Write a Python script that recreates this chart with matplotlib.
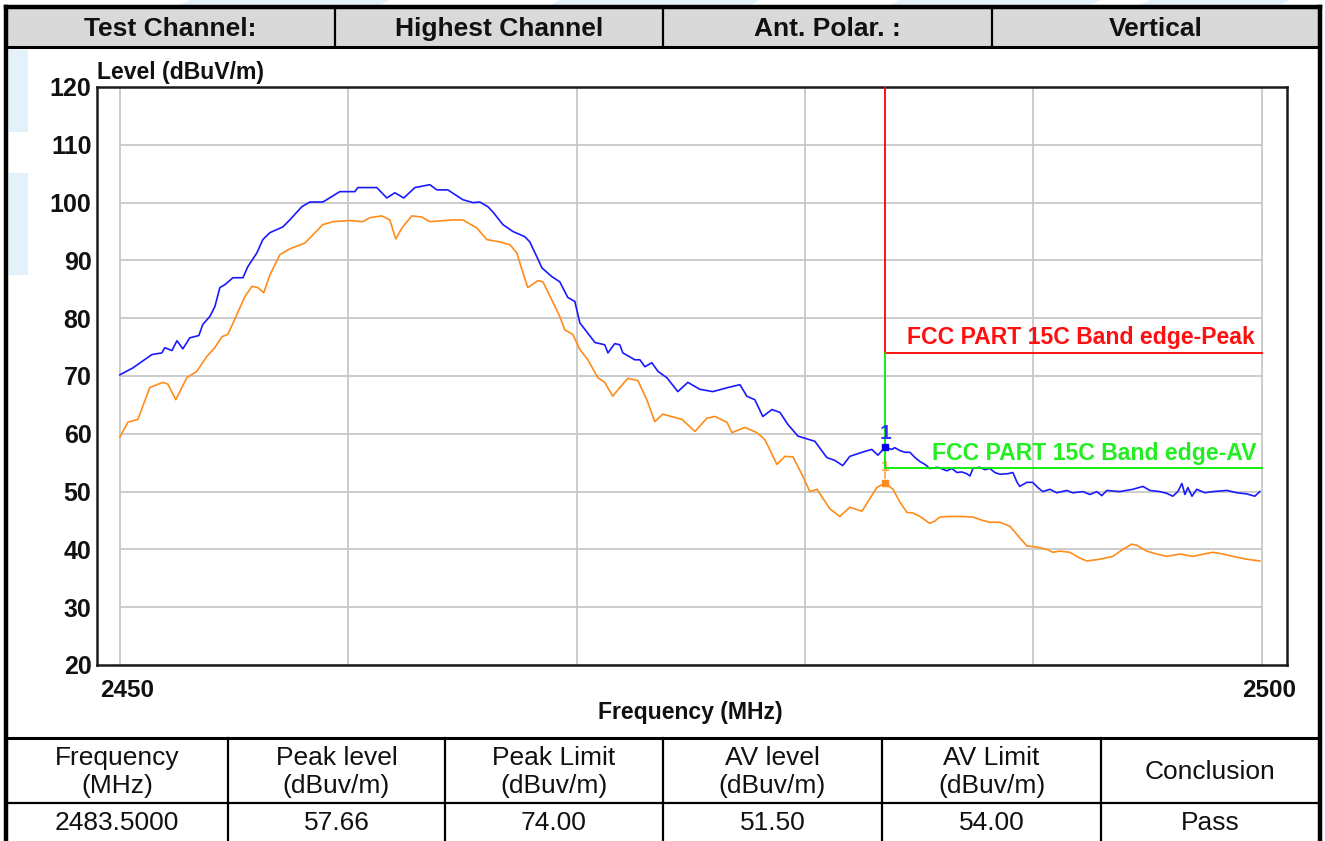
import matplotlib
matplotlib.use("Agg")
import matplotlib.pyplot as plt
from matplotlib.patches import Rectangle, Polygon
from matplotlib.transforms import ScaledTranslation

plt.rcParams['font.family'] = ['Liberation Sans', 'DejaVu Sans']

# Header row of the report
header_cells = ['Test Channel:', 'Highest Channel', 'Ant. Polar. :', 'Vertical']

# Peak trace (blue)
peak_freq = [2450.00, 2450.57, 2451.40, 2451.84, 2451.97, 2452.28, 2452.50, 2452.76, 2453.06,
             2453.46, 2453.63, 2453.94, 2454.16, 2454.38, 2454.60, 2454.95, 2455.39, 2455.60,
             2456.00, 2456.26, 2456.57, 2457.14, 2457.44, 2457.97, 2458.32, 2458.89, 2459.63,
             2460.29, 2460.42, 2461.25, 2461.69, 2462.04, 2462.43, 2462.92, 2463.57, 2463.88,
             2464.36, 2465.02, 2465.46, 2465.76, 2466.11, 2466.33, 2466.77, 2467.21, 2467.73,
             2467.95, 2468.26, 2468.48, 2468.91, 2469.26, 2469.61, 2469.92, 2470.14, 2470.80,
             2471.23, 2471.37, 2471.67, 2471.89, 2472.02, 2472.55, 2472.77, 2472.99, 2473.29,
             2473.56, 2473.95, 2474.43, 2474.87, 2475.39, 2475.96, 2476.62, 2477.15, 2477.45,
             2477.80, 2478.15, 2478.55, 2478.90, 2479.25, 2479.69, 2480.43, 2480.95, 2481.30,
             2481.65, 2481.96, 2482.49, 2482.92, 2483.19, 2483.50,
             2483.80, 2483.93, 2484.15, 2484.37, 2484.59, 2484.81, 2485.03, 2485.25, 2485.46,
             2485.81, 2486.21, 2486.43, 2486.65, 2486.86, 2487.08, 2487.22, 2487.35, 2487.65,
             2487.87, 2488.09, 2488.31, 2488.53, 2488.88, 2489.10, 2489.27, 2489.40, 2489.71,
             2489.97, 2490.19, 2490.41, 2490.72, 2491.02, 2491.46, 2491.72, 2492.16, 2492.47,
             2492.78, 2492.99, 2493.21, 2493.78, 2494.35, 2494.79, 2495.10, 2495.53, 2495.84,
             2496.10, 2496.32, 2496.50, 2496.63, 2496.76, 2496.94, 2497.15, 2497.50, 2497.85,
             2498.47, 2498.91, 2499.34, 2499.69, 2499.91]
peak_level = [70.2, 71.4, 73.7, 74.0, 74.9, 74.4, 76.1, 74.7, 76.6,
              77.0, 78.9, 80.3, 82.0, 85.3, 85.8, 87.0, 87.0, 88.9,
              91.3, 93.6, 94.8, 95.8, 97.0, 99.3, 100.1, 100.1, 101.9,
              101.9, 102.6, 102.6, 100.8, 101.7, 100.8, 102.6, 103.1, 102.2,
              102.2, 100.5, 100.0, 100.1, 99.3, 98.4, 96.2, 95.0, 94.1,
              93.2, 90.6, 88.7, 87.2, 86.3, 83.6, 82.9, 79.2, 75.8,
              75.4, 74.0, 75.6, 75.4, 74.0, 72.8, 72.8, 71.6, 72.3,
              70.8, 69.7, 67.3, 68.9, 67.7, 67.3, 68.0, 68.5, 66.5,
              65.9, 63.0, 64.2, 63.7, 61.6, 59.6, 58.7, 55.9, 55.4,
              54.5, 56.1, 56.8, 57.3, 56.3, 57.66,
              57.3, 57.6, 57.1, 56.8, 56.8, 55.9, 55.2, 54.7, 54.0,
              54.2, 53.6, 54.0, 53.3, 53.4, 53.1, 52.7, 54.0, 54.2,
              53.8, 54.0, 53.3, 53.0, 53.1, 53.3, 51.7, 50.9, 51.6,
              51.6, 50.7, 50.0, 50.4, 49.8, 50.2, 49.8, 50.0, 49.5,
              50.0, 49.3, 50.2, 50.0, 50.4, 50.9, 50.2, 50.0, 49.7,
              49.2, 50.0, 51.4, 49.5, 50.7, 49.2, 50.4, 49.8, 50.0,
              50.2, 49.8, 49.6, 49.2, 50.0]

# Average trace (orange)
av_freq = [2450.00, 2450.35, 2450.79, 2451.31, 2451.88, 2452.10, 2452.45, 2452.93, 2453.37,
           2453.81, 2454.16, 2454.47, 2454.73, 2455.12, 2455.47, 2455.78, 2456.04, 2456.30,
           2456.57, 2457.01, 2457.44, 2458.10, 2458.45, 2458.89, 2459.33, 2460.07, 2460.64,
           2460.95, 2461.47, 2461.82, 2462.08, 2462.35, 2462.78, 2463.22, 2463.57, 2464.58,
           2465.02, 2465.63, 2466.07, 2466.64, 2467.08, 2467.38, 2467.51, 2467.86, 2468.30,
           2468.52, 2468.91, 2469.26, 2469.48, 2469.83, 2470.14, 2470.49, 2470.93, 2471.23,
           2471.58, 2471.89, 2472.24, 2472.68, 2473.07, 2473.42, 2473.77, 2474.61, 2475.18,
           2475.70, 2476.05, 2476.58, 2476.80, 2477.36, 2477.89, 2478.24, 2478.77, 2479.12,
           2479.47, 2479.86, 2480.21, 2480.52, 2481.09, 2481.52, 2481.96, 2482.49, 2483.14,
           2483.50, 2483.85, 2484.15, 2484.46, 2484.72, 2485.03, 2485.46, 2485.68, 2485.90,
           2486.34, 2486.91, 2487.35, 2487.78, 2488.09, 2488.53, 2488.97, 2489.27, 2489.71,
           2490.15, 2490.59, 2490.85, 2491.16, 2491.59, 2492.03, 2492.34, 2492.91, 2493.48,
           2493.91, 2494.31, 2494.53, 2494.96, 2495.40, 2495.84, 2496.41, 2496.98, 2497.59,
           2497.85, 2498.29, 2498.73, 2499.34, 2499.91]
av_level = [59.4, 62.0, 62.5, 68.0, 68.9, 68.6, 65.9, 69.7, 70.8,
            73.4, 74.9, 76.8, 77.2, 80.6, 83.7, 85.5, 85.3, 84.4,
            87.5, 91.0, 92.0, 93.0, 94.4, 96.2, 96.7, 96.9, 96.7,
            97.4, 97.7, 97.0, 93.7, 95.6, 97.7, 97.5, 96.7, 97.0,
            97.0, 95.6, 93.6, 93.2, 92.7, 91.3, 89.6, 85.3, 86.5,
            86.3, 83.2, 80.3, 78.0, 77.2, 74.6, 72.8, 69.7, 68.9,
            66.5, 68.0, 69.6, 69.2, 65.9, 62.1, 63.4, 62.5, 60.4,
            62.7, 63.0, 62.0, 60.2, 61.1, 60.2, 59.0, 54.7, 56.1,
            56.0, 53.0, 50.0, 50.4, 47.0, 45.7, 47.3, 46.6, 50.7,
            51.5, 50.4, 48.2, 46.4, 46.3, 45.7, 44.5, 44.9, 45.6,
            45.7, 45.7, 45.6, 45.0, 44.7, 44.7, 44.0, 42.6, 40.6,
            40.4, 40.0, 39.5, 39.7, 39.5, 38.5, 38.0, 38.3, 38.8,
            40.0, 40.9, 40.7, 39.7, 39.2, 38.8, 39.2, 38.8, 39.3,
            39.5, 39.2, 38.8, 38.3, 38.0]

# Limits and marker
edge_freq = 2483.5
peak_limit = 74.0
av_limit = 54.0
marker_peak = 57.66
marker_av = 51.50

# Result table
table_head = [['Frequency', '(MHz)'], ['Peak level', '(dBuv/m)'], ['Peak Limit', '(dBuv/m)'],
              ['AV level', '(dBuv/m)'], ['AV Limit', '(dBuv/m)'], ['Conclusion', '']]
table_vals = ['2483.5000', '57.66', '74.00', '51.50', '54.00', 'Pass']

W, H = 1325, 841
fig = plt.figure(figsize=(W / 100, H / 100), dpi=100, facecolor='white')

# page layer in pixel coords for the report frame and tables
pg = fig.add_axes([0, 0, 1, 1])
pg.set_xlim(0, W)
pg.set_ylim(H, 0)
pg.axis('off')

light = '#e3f1fb'
for x0, x1 in [(190, 390), (560, 760), (900, 1100), (1150, 1290)]:
    pg.add_patch(Polygon([(x0, 0), (x1, 0), (x1 - 10, 5), (x0 - 10, 5)], color=light, lw=0))
pg.add_patch(Rectangle((9, 50), 19, 82, color=light, lw=0))
pg.add_patch(Rectangle((9, 173), 19, 102, color=light, lw=0))

# header row
pg.add_patch(Rectangle((6, 8), 1314, 39, facecolor='#d9d9d9', edgecolor='none'))
col_x = [6, 335, 663, 992, 1320]
for i, txt in enumerate(header_cells):
    pg.text((col_x[i] + col_x[i + 1]) / 2, 29, txt, ha='center', va='center',
            fontsize=19, fontweight='bold', color='#111111')
for x in col_x[1:-1]:
    pg.plot([x, x], [8, 47], color='black', lw=1.6)
pg.plot([6, 1320], [7, 7], color='black', lw=3.2)
pg.plot([6, 1320], [47, 47], color='black', lw=2.2)
pg.plot([6, 6], [7, H], color='black', lw=3.2)
pg.plot([1320, 1320], [7, H], color='black', lw=3.2)

# bottom result table
tcol = [6, 228, 445, 663, 882, 1101, 1320]
pg.plot([6, 1320], [738, 738], color='black', lw=2.2)
pg.plot([6, 1320], [803, 803], color='black', lw=1.6)
for x in tcol[1:-1]:
    pg.plot([x, x], [738, H], color='black', lw=1.6)
for i in range(6):
    cx = (tcol[i] + tcol[i + 1]) / 2
    l1, l2 = table_head[i]
    if l2:
        pg.text(cx, 758, l1, ha='center', va='center', fontsize=19, color='#111111')
        pg.text(cx, 786, l2, ha='center', va='center', fontsize=19, color='#111111')
    else:
        pg.text(cx, 772, l1, ha='center', va='center', fontsize=19, color='#111111')
    pg.text(cx, 823, table_vals[i], ha='center', va='center', fontsize=19, color='#111111')

# chart
ax = fig.add_axes([97 / W, 1 - 665 / H, (1287 - 97) / W, (665 - 87) / H])
ax.set_xlim(2449.0, 2501.1)
ax.set_ylim(20, 120)
for s in ax.spines.values():
    s.set_linewidth(1.8)
    s.set_color('#1a1a1a')

grid_c = '#c8c8c8'
for y in range(20, 121, 10):
    ax.plot([2450, 2500], [y, y], color=grid_c, lw=1.3, zorder=1)
for x in range(2450, 2501, 10):
    ax.plot([x, x], [20, 120], color=grid_c, lw=1.3, zorder=1)

ax.set_yticks(range(20, 121, 10))
ax.set_xticks([2450, 2500])
ax.set_xticklabels(['2450', '2500'])
ax.tick_params(axis='y', length=0, pad=4, labelsize=18)
ax.tick_params(axis='x', length=0, pad=10, labelsize=17.5)
shift = ScaledTranslation(7 / 100, 0, fig.dpi_scale_trans)
for lab in ax.get_xticklabels():
    lab.set_transform(lab.get_transform() + shift)
for lab in ax.get_xticklabels() + ax.get_yticklabels():
    lab.set_fontweight('bold')
    lab.set_color('#111111')

ax.plot(av_freq, av_level, color='#ff8c1a', lw=1.2, zorder=3)
ax.plot(peak_freq, peak_level, color='#1a1aff', lw=1.2, zorder=4)

# limit lines
ax.plot([edge_freq, edge_freq], [peak_limit, 120], color='#ff0000', lw=1.3, zorder=5)
ax.plot([edge_freq, 2500], [peak_limit, peak_limit], color='#ff0000', lw=1.3, zorder=5)
ax.plot([edge_freq, edge_freq], [av_limit, peak_limit], color='#00ee00', lw=1.3, zorder=5)
ax.plot([edge_freq, 2500], [av_limit, av_limit], color='#00ee00', lw=1.3, zorder=5)
ax.text(2499.7, peak_limit + 0.6, 'FCC PART 15C Band edge-Peak', ha='right', va='bottom',
        fontsize=16.6, fontweight='bold', color='#ff1010', zorder=6)
ax.text(2499.75, av_limit + 0.6, 'FCC PART 15C Band edge-AV', ha='right', va='bottom',
        fontsize=16.6, fontweight='bold', color='#22ee22', zorder=6)

# markers
ax.text(edge_freq, av_limit + 0.2, '1', ha='center', va='center', fontsize=11,
        fontweight='bold', color='#ff9a40', zorder=4)
ax.plot([edge_freq], [marker_peak], 's', color='#0000ee', ms=5, zorder=7)
ax.text(edge_freq, marker_peak + 0.7, '1', ha='center', va='bottom', fontsize=15,
        fontweight='bold', color='#3030ff', zorder=7)
ax.plot([edge_freq], [marker_av], 's', color='#ff8c1a', ms=5, zorder=7)
ax.plot([edge_freq, edge_freq], [marker_av + 0.8, av_limit - 0.6], color='#ffa040', lw=1.2, zorder=6)

pg.text(97, 79, 'Level (dBuV/m)', ha='left', va='baseline', fontsize=16.6,
        fontweight='bold', color='#111111')
pg.text(690, 712, 'Frequency (MHz)', ha='center', va='center', fontsize=16.6,
        fontweight='bold', color='#111111')

fig.savefig('out.png', dpi=100, facecolor='white')
